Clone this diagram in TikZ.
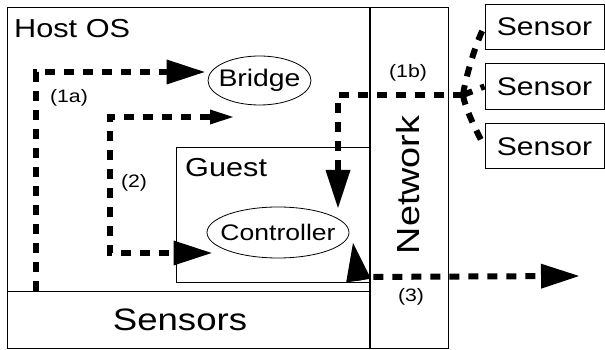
\documentclass[tikz,border=0pt]{standalone}
\usepackage{fontspec}
\usepackage{tikz}
\usetikzlibrary{shapes.geometric, arrows.meta, positioning}
\newfontfamily\diafont[FakeStretch=1.18]{Liberation Sans}
\newcommand{\fsz}[1]{\fontsize{#1}{#1}\selectfont}
\tikzset{
    box/.style={rectangle, draw=black, line width=0.9pt, inner sep=0pt},
    oval/.style={ellipse, draw=black, line width=0.8pt, inner sep=0pt},
    txt/.style={inner sep=0pt, font=\diafont\fsz{26pt}},
    tag/.style={inner sep=0pt, font=\diafont\fsz{18pt}},
    flow/.style={line width=6pt, dash pattern=on 10pt off 9pt},
    bigtip/.style={-{Triangle[length=38pt,width=25pt,line width=0pt]}},
    bothtips/.style={{Triangle[length=38pt,width=25pt,line width=0pt]}-{Triangle[length=38pt,width=25pt,line width=0pt]}},
    smallbig/.style={{Triangle[length=23pt,width=15pt,line width=0pt]}-{Triangle[length=38pt,width=25pt,line width=0pt]}},
}
\begin{document}
\begin{tikzpicture}[x=1pt,y=1pt,node distance=13.5pt]
  \useasboundingbox (0,0) rectangle (605,350);

  % boxes
  \node[box, minimum width=363pt, minimum height=284pt] (host) at (188.5,201) {};
  \node[box, minimum width=363pt, minimum height=57pt] (sensors) at (188.5,30.5) {};
  \node[box, minimum width=79pt, minimum height=341pt] (net) at (408.5,172.5) {};
  \node[box, minimum width=193pt, minimum height=135pt] (guest) at (272.5,135.5) {};
  \node[box, minimum width=119pt, minimum height=45pt, font=\diafont\fsz{25.5pt}] (s1) at (544.5,323.5) {Sensor};
  \node[box, minimum width=119pt, minimum height=46pt, font=\diafont\fsz{25.5pt}] (s2) [below=of s1] {Sensor};
  \node[box, minimum width=119pt, minimum height=45pt, font=\diafont\fsz{25.5pt}] (s3) [below=of s2] {Sensor};

  \node[txt, anchor=base west] (hosttxt) at (14,312) {Host OS};
  \node[txt, anchor=base west] (guesttxt) at (185,173) {Guest};
  \node[txt, font=\diafont\fsz{31pt}] (sensorstxt) at (180,30) {Sensors};
  \node[txt, font=\diafont\fsz{32pt}, rotate=90] (nettxt) at (408,165) {Network};

  \node[oval, minimum width=103pt, minimum height=49pt, font=\diafont\fsz{24pt}] (bridge) at (259.5,269.5) {\makebox[0pt]{Bridge}};
  \node[oval, minimum width=142pt, minimum height=51pt, font=\diafont\fsz{22.5pt}] (ctrl) at (278,117.5) {\makebox[0pt]{Controller}};

  \coordinate (hub) at (463,255);
  \coordinate (out) at (579,74);

  % flows
  \draw[flow, bigtip] ([xshift=29pt]sensors.north west) |- ([shift={(-3pt,8.5pt)}]bridge.west);
  \draw[flow, smallbig] ([shift={(-26.5pt,-36.5pt)}]bridge.center) -- ++(-123pt,0) |- ([shift={(5pt,-20.5pt)}]ctrl.west);
  \draw[flow, bigtip] (hub) -| ([shift={(60pt,24.5pt)}]ctrl.center);
  \draw[flow] (hub) to[out=82, in=240, looseness=0.6] (s1.west);
  \draw[flow] (hub) -- (s2.west);
  \draw[flow] (hub) to[out=-82, in=120, looseness=0.6] (s3.west);
  \draw[flow, bothtips] ([shift={(75pt,-10.5pt)}]ctrl.center) -- ++(5pt,-34pt) -- (out);

  % labels
  \node[tag] (l1a) at (69,252) {(1a)};
  \node[tag] (l1b) at (408,277) {(1b)};
  \node[tag] (l2) at (134,167) {(2)};
  \node[tag] (l3) at (411,53) {(3)};
\end{tikzpicture}
\end{document}
